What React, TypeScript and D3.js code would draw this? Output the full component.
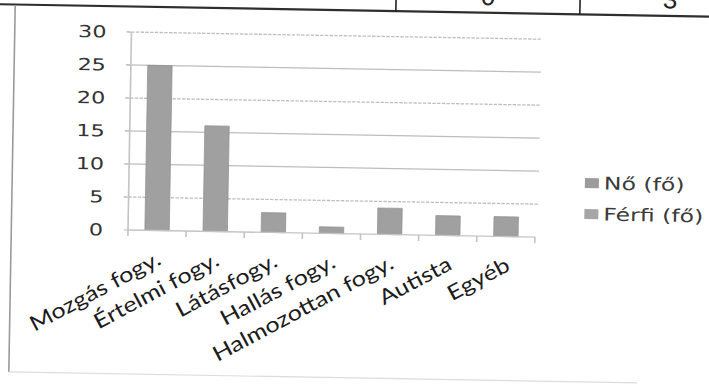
import React from "react";
import * as d3 from "d3";

const categories = ["Mozgás fogy.", "Értelmi fogy.", "Látásfogy.", "Hallás fogy.", "Halmozottan fogy.", "Autista", "Egyéb"];
const noValues = [25, 16, 3, 1, 4, 3, 3];
const ferfiValues = [0, 0, 0, 0, 0, 0, 0];
const seriesNames = ["Nő (fő)", "Férfi (fő)"];
const yTicks = [0, 5, 10, 15, 20, 25, 30];
const tableCells = ["0", "3"];

const W = 709;
const H = 388;
const S = 1.35; // horizontal stretch of the scan
const TILT = 1; // degrees

export default function App() {
  const rows = categories.map((c, i) => ({ cat: c, no: noValues[i], ferfi: ferfiValues[i] }));
  const stacked = d3.stack<any>().keys(["no", "ferfi"])(rows);

  const x = d3.scaleBand<string>().domain(categories).range([128 / S, 535 / S]).paddingInner(0.58).paddingOuter(0.29);
  const y = d3.scaleLinear().domain([0, 30]).range([230, 32]);
  const step = x.step();
  const x0 = x.range()[0];
  const x1 = x.range()[1];
  const colors = ["#a0a0a0", "#a8a8a8"];

  const gridDash = (t: number) => (t === 30 || t === 20 || t === 5 ? "2.5 1" : undefined);

  return (
    <svg width={W} height={H} style={{ position: "absolute", left: 0, top: 0, background: "#fff" }}>
      <rect x={0} y={0} width={W} height={H} fill="#fff" />
      <g transform={`rotate(${TILT}, 128, 230)`}>
        {/* table fragment at top */}
        <line x1={-20} x2={W + 20} y1={6.5} y2={6.5} stroke="#2e2e2e" strokeWidth={2.2} />
        <line x1={392} x2={392} y1={-20} y2={6.5} stroke="#222" strokeWidth={1.6} />
        <line x1={576} x2={576} y1={-20} y2={6.5} stroke="#222" strokeWidth={1.6} />
        {tableCells.map((t, i) => (
          <text key={t + i} x={i === 0 ? 484 : 666} y={-1} textAnchor="middle" fontFamily="Liberation Sans" fontSize={26} fill="#222">
            {t}
          </text>
        ))}
        {/* chart frame */}
        <line x1={11.3} x2={11.3} y1={7} y2={374} stroke="#9a9a9a" strokeWidth={1.6} />
        <line x1={11.3} x2={640} y1={374} y2={374} stroke="#dcdcdc" strokeWidth={1.2} />

        <g transform={`scale(${S},1)`}>
          {/* gridlines */}
          {yTicks.filter((t) => t > 0).map((t) => (
            <line key={"g" + t} x1={123 / S} x2={538 / S} y1={y(t)} y2={y(t)} stroke="#bdbdbd" strokeWidth={1.3} strokeDasharray={gridDash(t)} />
          ))}
          {/* y axis */}
          <line x1={x0} x2={x0} y1={y(30)} y2={y(0)} stroke="#c4c4c4" strokeWidth={1.2} />
          {yTicks.map((t) => (
            <line key={"yt" + t} x1={x0 - 4 / S} x2={x0} y1={y(t)} y2={y(t)} stroke="#c4c4c4" strokeWidth={1.2} />
          ))}
          {yTicks.map((t) => (
            <text key={"yl" + t} x={103 / S} y={y(t)} dy="0.36em" textAnchor="end" fontFamily="DejaVu Sans" fontSize={16.5} fill="#333">
              {t}
            </text>
          ))}
          {/* bars */}
          {stacked.map((s, si) =>
            s.map((d: any, i: number) =>
              d[1] - d[0] > 0 ? (
                <rect
                  key={si + "-" + i}
                  x={x(categories[i])}
                  y={y(d[1])}
                  width={x.bandwidth()}
                  height={y(d[0]) - y(d[1])}
                  fill={colors[si]}
                  stroke="#8e8e8e"
                  strokeWidth={0.6}
                />
              ) : null
            )
          )}
          {/* x axis */}
          <line x1={x0} x2={x1} y1={y(0)} y2={y(0)} stroke="#c4c4c4" strokeWidth={1.3} />
          {d3.range(categories.length + 1).map((i) => (
            <line key={"xt" + i} x1={x0 + i * step} x2={x0 + i * step} y1={y(0)} y2={y(0) + 6} stroke="#c4c4c4" strokeWidth={1.2} />
          ))}
          {/* legend */}
          {seriesNames.map((n, i) => (
            <g key={n} transform={`translate(${584 / S}, ${175 + i * 31})`}>
              <rect x={0} y={-5} width={14 / S} height={10} fill={i === 0 ? "#9c9c9c" : "#a6a6a6"} />
              <text x={19 / S} y={0} dy="0.36em" fontFamily="DejaVu Sans" fontSize={17.5} fill="#3a3a3a">
                {n}
              </text>
            </g>
          ))}
        </g>
        {/* category labels (rotated, in unstretched frame) */}
        {categories.map((c) => {
          const cx = ((x(c) as number) + x.bandwidth() / 2) * S;
          return (
            <text
              key={"xl" + c}
              transform={`translate(${cx - 1}, 250) rotate(-29) scale(1.2,1)`}
              dy="0.7em"
              textAnchor="end"
              fontFamily="Lato"
              fontSize={21}
              fill="#1c1c1c"
            >
              {c}
            </text>
          );
        })}
      </g>
    </svg>
  );
}
